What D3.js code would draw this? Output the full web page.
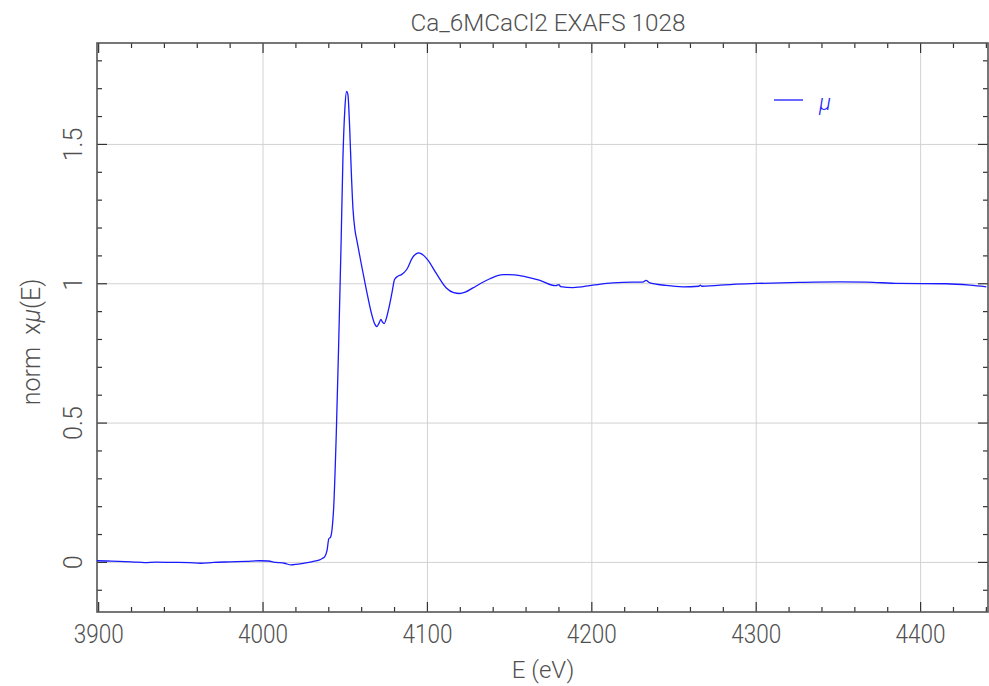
<!DOCTYPE html>
<html>
<head>
<meta charset="utf-8">
<script src="https://cdn.jsdelivr.net/npm/d3@7"></script>
<style>
  html, body { margin: 0; padding: 0; background: #fff; }
  svg { display: block; }
  text { font-family: Roboto, "DejaVu Sans", sans-serif; font-weight: 300; fill: #505050; }
</style>
</head>
<body>
<svg id="chart" width="989" height="686"></svg>
<script>
const titleText = "Ca_6MCaCl2 EXAFS 1028";
const xLabelText = "E (eV)";
const seriesName = "μ";

const energy = [3899, 3905, 3912, 3920, 3928, 3935, 3945, 3955, 3962, 3970, 3980, 3990, 3998, 4003, 4008, 4013, 4017, 4021, 4026, 4030, 4034, 4036, 4037.5, 4039, 4040, 4041, 4042, 4043, 4044.5, 4046, 4047.5, 4048.6, 4049.8, 4050.8, 4051.6, 4052.7, 4053.7, 4054.7, 4056, 4057.1, 4059.8, 4062.8, 4065.9, 4068, 4069.3, 4070.5, 4071.7, 4072.7, 4073.7, 4075.2, 4077, 4078.5, 4080, 4082, 4084, 4087.5, 4091, 4094.8, 4098, 4100.3, 4105.4, 4111.5, 4116, 4119.6, 4123, 4127.7, 4132, 4138, 4146, 4153, 4160, 4168, 4178, 4180, 4181, 4188.5, 4200.6, 4212.8, 4225, 4231, 4233, 4235, 4245, 4255.4, 4265, 4266, 4267, 4285.8, 4300, 4326.4, 4350.7, 4367, 4387, 4415.6, 4430, 4440];
const muValues = [0.006, 0.005, 0.004, 0.002, -0.001, 0.001, 0.0, -0.001, -0.003, 0.0, 0.002, 0.004, 0.006, 0.005, 0.0, -0.003, -0.009, -0.006, -0.002, 0.003, 0.008, 0.014, 0.02, 0.045, 0.085, 0.09, 0.12, 0.2, 0.45, 0.78, 1.15, 1.45, 1.63, 1.69, 1.68, 1.56, 1.40, 1.27, 1.19, 1.155, 1.07, 0.98, 0.895, 0.855, 0.846, 0.858, 0.872, 0.862, 0.857, 0.88, 0.925, 0.97, 1.015, 1.027, 1.032, 1.052, 1.095, 1.111, 1.1, 1.085, 1.037, 0.985, 0.968, 0.965, 0.97, 0.985, 1.0, 1.018, 1.033, 1.032, 1.025, 1.013, 0.993, 0.997, 0.99, 0.986, 0.995, 1.003, 1.006, 1.006, 1.012, 1.004, 0.994, 0.989, 0.991, 0.995, 0.991, 0.998, 1.001, 1.005, 1.007, 1.006, 1.001, 1.0, 0.995, 0.989];

const xMajorTicks = [3900, 4000, 4100, 4200, 4300, 4400];
const xTickLabels = ["3900", "4000", "4100", "4200", "4300", "4400"];
const yMajorTicks = [0, 0.5, 1, 1.5];
const yTickLabels = ["0", "0.5", "1", "1.5"];
const xDomain = [3899, 4441];
const yDomain = [-0.178, 1.864];

const svg = d3.select("#chart");
const L = 97, R = 988, T = 43, B = 612;

const x = d3.scaleLinear().domain(xDomain).range([L, R]);
const y = d3.scaleLinear().domain(yDomain).range([B, T]);

// gridlines
const grid = svg.append("g").attr("stroke", "#d2d2d2").attr("stroke-width", 1);
xMajorTicks.filter(v => v > xDomain[0] + 1).forEach(v => {
  grid.append("line").attr("x1", x(v)).attr("x2", x(v)).attr("y1", T).attr("y2", B);
});
yMajorTicks.forEach(v => {
  grid.append("line").attr("x1", L).attr("x2", R).attr("y1", y(v)).attr("y2", y(v));
});

// minor tick values
const xMinor = d3.range(3900, 4441, 20).filter(v => v % 100 !== 0);
const yMinor = d3.range(-1, 19).map(i => i / 10).filter(v => Math.abs(v * 2 - Math.round(v * 2)) > 1e-6 && v > yDomain[0] && v < yDomain[1]);

const ticks = svg.append("g").attr("stroke", "#333").attr("stroke-width", 1.2);
xMajorTicks.forEach(v => {
  ticks.append("line").attr("x1", x(v)).attr("x2", x(v)).attr("y1", B).attr("y2", B - 10);
  ticks.append("line").attr("x1", x(v)).attr("x2", x(v)).attr("y1", T).attr("y2", T + 10);
});
xMinor.forEach(v => {
  ticks.append("line").attr("x1", x(v)).attr("x2", x(v)).attr("y1", B).attr("y2", B - 5);
  ticks.append("line").attr("x1", x(v)).attr("x2", x(v)).attr("y1", T).attr("y2", T + 5);
});
yMajorTicks.forEach(v => {
  ticks.append("line").attr("x1", L).attr("x2", L + 10).attr("y1", y(v)).attr("y2", y(v));
  ticks.append("line").attr("x1", R).attr("x2", R - 10).attr("y1", y(v)).attr("y2", y(v));
});
yMinor.forEach(v => {
  ticks.append("line").attr("x1", L).attr("x2", L + 5).attr("y1", y(v)).attr("y2", y(v));
  ticks.append("line").attr("x1", R).attr("x2", R - 5).attr("y1", y(v)).attr("y2", y(v));
});

// frame
svg.append("rect").attr("x", L).attr("y", T).attr("width", R - L).attr("height", B - T)
  .attr("fill", "none").attr("stroke", "#555").attr("stroke-width", 1.6);

// data line
const pts = energy.map((e, i) => [e, muValues[i]]);
const line = d3.line().x(d => x(d[0])).y(d => y(d[1])).curve(d3.curveMonotoneX);
svg.append("path").datum(pts).attr("d", line)
  .attr("fill", "none").attr("stroke", "#1a1aff").attr("stroke-width", 1.3)
  .attr("stroke-linejoin", "round");

// tick labels
xMajorTicks.forEach((v, i) => {
  svg.append("text").attr("x", x(v)).attr("y", 643).attr("text-anchor", "middle")
    .attr("font-size", 25).attr("textLength", 50).attr("lengthAdjust", "spacingAndGlyphs")
    .text(xTickLabels[i]);
});
yTickLabels.forEach((lab, i) => {
  const yy = y(yMajorTicks[i]);
  svg.append("text").attr("transform", `translate(82,${yy}) rotate(-90)`)
    .attr("text-anchor", "middle").attr("font-size", 25)
    .text(lab);
});

// title
svg.append("text").attr("x", 548).attr("y", 31).attr("text-anchor", "middle")
  .attr("font-size", 23).attr("textLength", 275).attr("lengthAdjust", "spacingAndGlyphs")
  .text(titleText);

// x label
svg.append("text").attr("x", 543).attr("y", 678).attr("text-anchor", "middle")
  .attr("font-size", 24).text(xLabelText);

// y label
const yl = svg.append("text").attr("transform", "translate(40,342) rotate(-90)")
  .attr("text-anchor", "middle").attr("font-size", 25).style("white-space", "pre");
yl.append("tspan").text("norm  x");
yl.append("tspan").attr("font-style", "italic").text("μ");
yl.append("tspan").text("(E)");

// legend
const lg = svg.append("g");
lg.append("line").attr("x1", 774).attr("x2", 803).attr("y1", 100).attr("y2", 100)
  .attr("stroke", "#1a1aff").attr("stroke-width", 1.3);
lg.append("text").attr("x", 819).attr("y", 110).attr("font-size", 22)
  .attr("font-style", "italic").style("fill", "#1a1aff").text(seriesName);
</script>
</body>
</html>
